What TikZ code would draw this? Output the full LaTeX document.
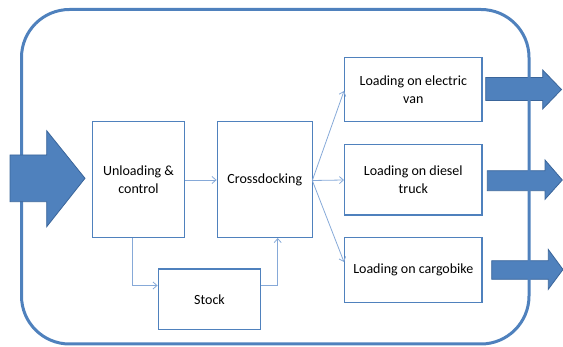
\documentclass[tikz,border=0pt]{standalone}
\usepackage{fontspec}
\setmainfont{Carlito}
\usetikzlibrary{arrows.meta}
\definecolor{accent}{HTML}{4F81BD}
\definecolor{accentdark}{HTML}{3A659A}
\definecolor{conn}{HTML}{86A9D8}
\tikzset{
  procbox/.style={draw=accent, line width=1.4pt, fill=white, align=center,
    font=\fontsize{14}{17.5}\selectfont, inner sep=0pt},
  conline/.style={draw=conn, line width=0.8pt, -{Straight Barb[length=4pt,width=7pt]}},
  bigarrow/.style={fill=accent, draw=accentdark, line width=0.8pt, line join=miter},
}
\begin{document}
\begin{tikzpicture}[x=1pt,y=-1pt]
\useasboundingbox (0,0) rectangle (563,347);
% right output arrows (behind border)
\draw[bigarrow] (485.7,77.5) -- (542.7,77.5) -- (542.7,70) -- (561.5,89.5) -- (542.7,109) -- (542.7,100.5) -- (485.7,100.5) -- cycle;
\draw[bigarrow] (487.3,170.7) -- (545,170.7) -- (545,160) -- (562.3,180) -- (545,199.3) -- (545,190.7) -- (487.3,190.7) -- cycle;
\draw[bigarrow] (491.7,260.7) -- (548.3,260.7) -- (548.3,249.5) -- (563,269.5) -- (548.3,289.3) -- (548.3,279.3) -- (491.7,279.3) -- cycle;
% outer border
\node[draw=accent, line width=3pt, rounded corners=48pt, minimum width=507.5pt, minimum height=334.5pt, inner sep=0pt] (frame) at (275.25,176.75) {};
% input arrow (on top of border)
\draw[bigarrow] (10,155) -- (46.7,155) -- (46.7,130.7) -- (85,178.3) -- (46.7,226.7) -- (46.7,201.7) -- (10,201.7) -- cycle;
% process boxes
\node[procbox, minimum width=91.6pt, minimum height=115.6pt] (unload) at (138.5,179.5) {Unloading \&\\control};
\node[procbox, minimum width=95pt, minimum height=115.6pt] (cross) at (264.8,179.5) {Crossdocking};
\node[procbox, minimum width=102.4pt, minimum height=60.3pt] (stock) at (209.5,299.2) {Stock};
\node[procbox, minimum width=137.2pt, minimum height=64.4pt] (van) at (413.3,89.5) {Loading on electric\\van};
\node[procbox, minimum width=137.2pt, minimum height=70.7pt] (truck) at (413.3,179.7) {Loading on diesel\\truck};
\node[procbox, minimum width=137.2pt, minimum height=65pt] (bike) at (413.3,269.8) {Loading on cargobike};
% connectors
\draw[conline] (unload.east |- 0,180) -- (cross.west |- 0,180);
\draw[conline] (unload.south -| 132.8,0) |- (stock.west |- 0,285.5);
\draw[conline] (stock.east |- 0,285.5) -| (cross.south -| 277.7,0);
\coordinate (fan) at (312.3,180.5);
\draw[conline] (fan) -- (van.west |- 0,91);
\draw[conline] (fan) -- (truck.west |- 0,180);
\draw[conline] (fan) -- (bike.west |- 0,262);
\end{tikzpicture}
\end{document}
